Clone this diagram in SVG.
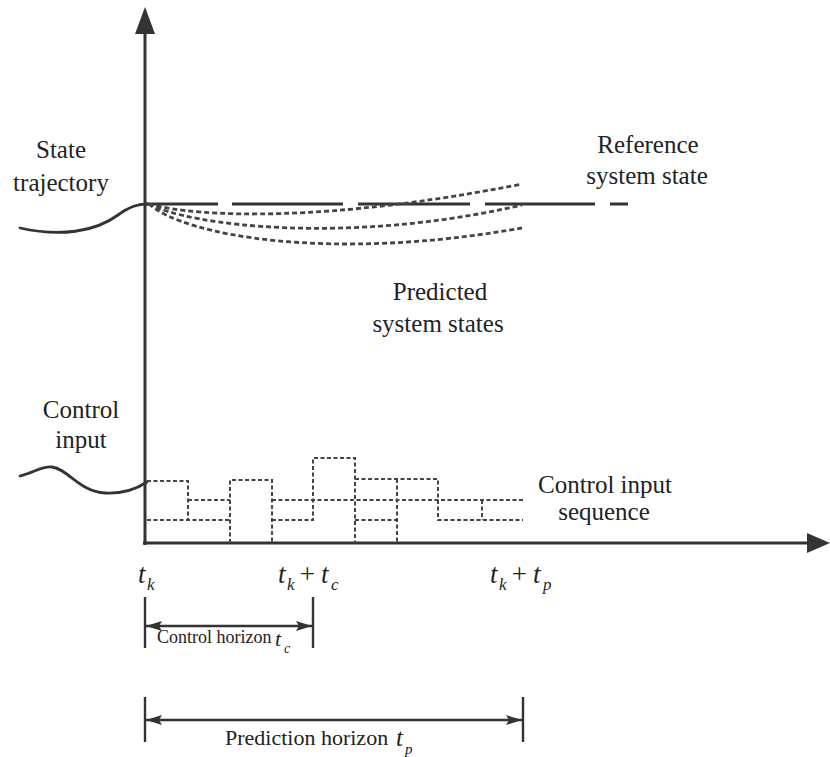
<svg xmlns="http://www.w3.org/2000/svg" width="830" height="757" viewBox="0 0 830 757">
  <style>
    .lbl { font-family: "Liberation Serif", "Times New Roman", serif; font-size: 25px; fill: #222; text-anchor: middle; }
    .math { font-family: "Liberation Serif", "Times New Roman", serif; font-style: italic; fill: #222; }
    .small { font-family: "Liberation Serif", "Times New Roman", serif; fill: #222; }
    .axis { stroke: #333; stroke-width: 3; fill: none; }
    .solid { stroke: #333; stroke-width: 2.8; fill: none; stroke-linecap: round; }
    .dot { stroke: #444; stroke-width: 2.8; fill: none; stroke-dasharray: 5 3; }
    .step { stroke: #444; stroke-width: 2; fill: none; stroke-dasharray: 4 2.5; }
    .dim { stroke: #333; stroke-width: 2.4; fill: none; }
  </style>
  <defs>
    <marker id="dimHead" viewBox="0 0 16 10" refX="16" refY="5" markerWidth="16" markerHeight="10" markerUnits="userSpaceOnUse" orient="auto-start-reverse">
      <path d="M0,0 L16,5 L0,10 L3,5 Z" fill="#333"/>
    </marker>
  </defs>

  <rect width="830" height="757" fill="#fff"/>

  <!-- axes -->
  <g id="axes">
    <line class="axis" x1="145" y1="30" x2="145" y2="545"/>
    <polygon points="145,7 155,34 135,34" fill="#333"/>
    <line class="axis" x1="143" y1="543" x2="810" y2="543"/>
    <polygon points="830,543 807,533 807,553" fill="#333"/>
  </g>

  <!-- state trajectory and predictions -->
  <g id="state">
    <path class="solid" d="M20,228 C60,237 95,232 118,215 C130,206 138,204 147,204"/>
    <path d="M145,204 H218 M232,204 H343 M358,204 H470 M485,204 H595 M610,204 H628" stroke="#333" stroke-width="2.8" fill="none"/>
    <path class="dot" d="M149,204 C200,218 330,222 522,184"/>
    <path class="dot" d="M149,204 C190,226 350,245 522,205"/>
    <path class="dot" d="M149,204 C185,236 330,262 522,228"/>
  </g>

  <!-- control input and sequences -->
  <g id="control">
    <path class="solid" d="M20,476 C35,472 42,466 52,467 C68,469 80,492 105,493 C125,494 138,488 147,482"/>
    <path class="step" d="M147,481 H188 V520 M147,520 H230 M188,500 H230 M230,543 V480 H272 V543 M272,500 H523 M272,520 H313 V458 H355 V543 M355,479 H438 V520 H523 M397,479 V543 M355,520 H397 M482,500 V520"/>
  </g>

  <!-- horizons -->
  <g id="control-horizon">
    <line class="dim" x1="145" y1="597" x2="145" y2="648"/>
    <line class="dim" x1="313" y1="597" x2="313" y2="648"/>
    <line class="dim" x1="146" y1="626" x2="312" y2="626" marker-start="url(#dimHead)" marker-end="url(#dimHead)"/>
    <text class="small" x="157" y="643" font-size="18">Control horizon</text>
    <text class="math" x="275" y="646" font-size="22">t</text>
    <text class="math" x="284" y="653" font-size="14">c</text>
  </g>
  <g id="prediction-horizon">
    <line class="dim" x1="145" y1="697" x2="145" y2="742"/>
    <line class="dim" x1="523" y1="697" x2="523" y2="742"/>
    <line class="dim" x1="146" y1="720" x2="522" y2="720" marker-start="url(#dimHead)" marker-end="url(#dimHead)"/>
    <text class="small" x="225" y="745" font-size="22">Prediction horizon</text>
    <text class="math" x="396" y="746" font-size="25">t</text>
    <text class="math" x="405" y="754" font-size="15">p</text>
  </g>

  <!-- time marks -->
  <g id="ticks">
    <text class="math" x="138" y="583" font-size="27">t</text>
    <text class="math" x="147" y="590" font-size="17">k</text>
    <text class="math" x="278" y="583" font-size="27">t</text>
    <text class="math" x="287" y="590" font-size="17">k</text>
    <text class="math" x="298" y="583" font-size="27" font-style="normal">+</text>
    <text class="math" x="321" y="583" font-size="27">t</text>
    <text class="math" x="331" y="590" font-size="17">c</text>
    <text class="math" x="490" y="583" font-size="27">t</text>
    <text class="math" x="499" y="590" font-size="17">k</text>
    <text class="math" x="510" y="583" font-size="27" font-style="normal">+</text>
    <text class="math" x="533" y="583" font-size="27">t</text>
    <text class="math" x="543" y="590" font-size="17">p</text>
  </g>

  <!-- labels -->
  <g id="labels">
    <text class="lbl" x="61" y="158">State</text>
    <text class="lbl" x="61" y="191">trajectory</text>
    <text class="lbl" x="648" y="153">Reference</text>
    <text class="lbl" x="647" y="184">system state</text>
    <text class="lbl" x="440" y="300">Predicted</text>
    <text class="lbl" x="438" y="332">system states</text>
    <text class="lbl" x="81" y="418">Control</text>
    <text class="lbl" x="81" y="448">input</text>
    <text class="lbl" x="605" y="493">Control input</text>
    <text class="lbl" x="604" y="520">sequence</text>
  </g>
</svg>
